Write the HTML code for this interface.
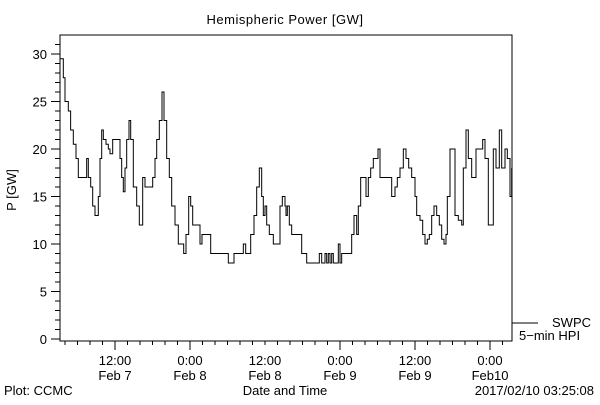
<!DOCTYPE html>
<html><head><meta charset="utf-8"><style>
body{margin:0;background:#fff;}
svg text{font-family:"Liberation Sans",sans-serif;font-size:13px;fill:#000;}
</style></head><body>
<svg id="chart" width="600" height="400" xmlns="http://www.w3.org/2000/svg">
<rect width="600" height="400" fill="#fff"/>
<text x="285" y="24" text-anchor="middle" font-size="14" letter-spacing="0.5">Hemispheric Power [GW]</text>
<text transform="translate(16,190) rotate(-90)" text-anchor="middle">P [GW]</text>
<rect x="60" y="35" width="452" height="306" fill="none" stroke="#000" stroke-width="1"/>
<g id="yaxis"></g>
<g id="xaxis"></g>
<path id="series" fill="none" stroke="#000" stroke-width="1"/>
<line x1="512" y1="323" x2="538" y2="323" stroke="#000"/>
<text x="552" y="327">SWPC</text>
<text x="519" y="340">5−min HPI</text>
<text x="285" y="395" text-anchor="middle">Date and Time</text>
<text x="4" y="395">Plot: CCMC</text>
<text x="594" y="395" text-anchor="end">2017/02/10 03:25:08</text>
</svg>
<script>
const hours=[0,0.16,0.53,0.8,1.33,1.7,2.13,2.56,2.93,4.27,4.53,4.91,5.23,5.6,6.13,6.4,6.67,6.93,7.36,7.73,8,8.43,9.6,9.87,10.13,10.4,10.67,11.04,11.31,11.73,12.27,12.69,13.23,13.6,14.83,15.2,15.47,15.89,16.32,16.64,17.07,17.49,17.87,18.4,18.93,19.47,19.79,20.16,20.59,20.91,21.23,22.4,22.72,24.11,26.93,27.84,29.33,29.71,30.51,31.04,31.47,31.89,32.27,32.53,32.8,33.07,33.49,34.13,35.2,35.57,36,36.16,36.37,36.69,37.07,38.13,38.67,39.47,41.49,41.87,42.4,42.67,42.93,43.2,43.47,43.73,44.53,44.8,45.07,46.67,47.04,47.47,47.73,48.11,48.96,49.33,49.71,50.13,50.56,50.88,51.2,53.07,53.6,53.97,54.4,54.93,55.36,55.79,56.27,56.8,57.07,57.6,58.03,58.4,58.77,59.09,59.47,59.84,60.27,60.69,61.07,61.44,61.76,61.97,62.4,63.2,63.73,64.27,64.53,64.96,65.33,65.87,66.29,66.56,67.63,68,68.53,69.33,69.76,70.29,70.67,71.2,71.57,72,72.27];
const power=[29.5,29.5,27.5,25,24,22,20.5,19,17,19,17,16,14,13,15,19,22,21,20.5,20,19.5,21,19,17,15.5,18,21,23,21,16,14,12,17,16,17,19,21,23,26,23,19,17,14,12,10,10,9,11,15,14,12,10,11,9,8,9,10,9,11,13,16,18,15,13,14,12,11,10,14,15,14,13,14,12,11,11,9,8,9,8,9,8,9,8,9,8,10,8,9,11,13,11,14,17,15,17,18,19,19,20,17,15,16,17,18,20,19,18,17,15,13,12.5,11,10,10.5,11,13,14,13,12,10.5,10,11,15,20,13,12.5,12,18,22,19,17,17,20,21,19,12,20,18,22,18,20,19,15,18,18];
const yTicks=[0,5,10,15,20,25,30];
const xTickLabels=["12:00","0:00","12:00","0:00","12:00","0:00"];
const xTickDays=["Feb 7","Feb 8","Feb 8","Feb 9","Feb 9","Feb10"];
const xTickHours=[8.8,20.8,32.8,44.8,56.8,68.8];
const NS="http://www.w3.org/2000/svg";
const X=h=>60+h*6.25, Y=v=>339-v*9.5;
function mk(tag,attrs,parent){const e=document.createElementNS(NS,tag);for(const k in attrs)e.setAttribute(k,attrs[k]);parent.appendChild(e);return e;}
const ya=document.getElementById('yaxis'), xa=document.getElementById('xaxis');
for(let v=0;v<=31;v++){const l=mk('line',{x1:60,x2:v%5==0?51:55,y1:Y(v),y2:Y(v),stroke:'#000'},ya);

}
yTicks.forEach(v=>{const t=mk('text',{x:47,y:Y(v)+5,'text-anchor':'end'},ya);t.textContent=v;

});
for(let h=0.8;h<=72.3;h+=2){const major=Math.abs(((h-8.8)%12+12)%12)<0.01;const l=mk('line',{x1:X(h),x2:X(h),y1:341,y2:major?350:345,stroke:'#000'},xa);

}
xTickHours.forEach((h,i)=>{const t=mk('text',{x:X(h),y:365,'text-anchor':'middle'},xa);t.textContent=xTickLabels[i];


const d=mk('text',{x:X(h),y:380,'text-anchor':'middle'},xa);d.textContent=xTickDays[i];

});
let d='M'+X(hours[0])+','+Y(power[0]);
for(let i=1;i<hours.length;i++){d+=' H'+X(hours[i])+' V'+Y(power[i]);}
document.getElementById('series').setAttribute('d',d);
</script>
</body></html>
